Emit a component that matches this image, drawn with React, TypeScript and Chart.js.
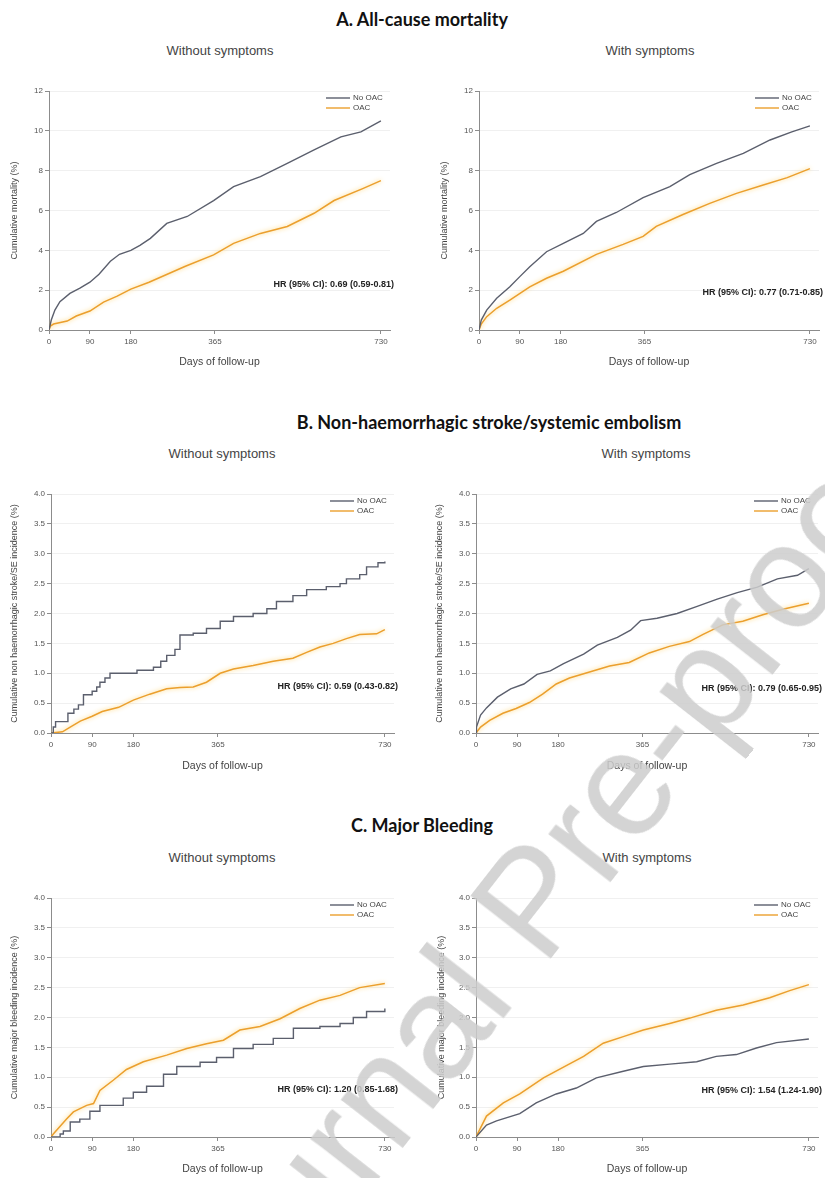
import React, { useEffect, useRef } from "react";
import { Chart, registerables } from "chart.js";
Chart.register(...registerables);

// ---------- shared labels ----------
const seriesLabels = ["No OAC", "OAC"];
const xTickValues = [0, 90, 180, 365, 730];
const xAxisTitle = "Days of follow-up";
const sectionTitles = [
  "A. All-cause mortality",
  "B. Non-haemorrhagic stroke/systemic embolism",
  "C. Major Bleeding",
];
const groupTitles = ["Without symptoms", "With symptoms"];
const yTitles = [
  "Cumulative mortality (%)",
  "Cumulative non haemorrhagic stroke/SE incidence (%)",
  "Cumulative major bleeding incidence (%)",
];
const hrLabels = [
  "HR (95% CI): 0.69 (0.59-0.81)",
  "HR (95% CI): 0.77 (0.71-0.85)",
  "HR (95% CI): 0.59 (0.43-0.82)",
  "HR (95% CI): 0.79 (0.65-0.95)",
  "HR (95% CI): 1.20 (0.85-1.68)",
  "HR (95% CI): 1.54 (1.24-1.90)",
];
const watermarkText = "Journal Pre-proof";

// ---------- A. All-cause mortality, without symptoms ----------
const aWithoutNoOacDays = [0, 5, 13, 24, 46, 68, 90, 110, 135, 155, 180, 200, 223, 259, 304, 362, 406, 465, 524, 583, 642, 686, 730];
const aWithoutNoOacPct = [0, 0.5, 1.0, 1.42, 1.84, 2.1, 2.4, 2.8, 3.45, 3.8, 4.0, 4.25, 4.6, 5.35, 5.7, 6.5, 7.2, 7.7, 8.37, 9.04, 9.7, 9.95, 10.5];
const aWithoutOacDays = [0, 3, 10, 40, 60, 90, 120, 150, 180, 220, 260, 300, 362, 406, 465, 524, 583, 627, 690, 730];
const aWithoutOacPct = [0, 0.2, 0.3, 0.45, 0.7, 0.95, 1.4, 1.7, 2.05, 2.4, 2.8, 3.2, 3.77, 4.35, 4.85, 5.2, 5.86, 6.5, 7.1, 7.5];

// ---------- A. All-cause mortality, with symptoms ----------
const aWithNoOacDays = [0, 5, 17, 39, 68, 90, 112, 149, 186, 230, 259, 303, 362, 421, 465, 524, 583, 642, 690, 730];
const aWithNoOacPct = [0, 0.5, 1.0, 1.59, 2.17, 2.68, 3.18, 3.93, 4.35, 4.85, 5.45, 5.9, 6.65, 7.2, 7.8, 8.37, 8.87, 9.54, 9.95, 10.25];
const aWithOacDays = [0, 5, 17, 39, 68, 112, 149, 186, 259, 318, 362, 391, 450, 509, 568, 627, 680, 730];
const aWithOacPct = [0, 0.3, 0.67, 1.09, 1.5, 2.17, 2.6, 2.95, 3.8, 4.3, 4.7, 5.2, 5.8, 6.36, 6.86, 7.28, 7.65, 8.1];

// ---------- B. Stroke/SE, without symptoms ----------
const bWithoutNoOacDays = [0, 5, 10, 37, 50, 60, 71, 90, 100, 107, 118, 129, 188, 224, 240, 253, 271, 282, 311, 340, 370, 399, 442, 472, 493, 529, 559, 602, 632, 646, 675, 690, 715, 730];
const bWithoutNoOacPct = [0, 0.1, 0.19, 0.33, 0.4, 0.47, 0.64, 0.7, 0.77, 0.85, 0.92, 1.0, 1.05, 1.1, 1.2, 1.3, 1.4, 1.64, 1.67, 1.75, 1.87, 1.95, 2.0, 2.08, 2.2, 2.3, 2.4, 2.45, 2.5, 2.58, 2.65, 2.78, 2.85, 2.87];
const bWithoutOacDays = [0, 25, 42, 64, 90, 112, 148, 180, 216, 253, 282, 311, 340, 370, 399, 442, 486, 529, 559, 588, 617, 646, 675, 712, 730];
const bWithoutOacPct = [0, 0.02, 0.1, 0.2, 0.28, 0.36, 0.43, 0.55, 0.65, 0.74, 0.76, 0.77, 0.85, 1.0, 1.07, 1.13, 1.2, 1.25, 1.35, 1.44, 1.5, 1.58, 1.65, 1.66, 1.73];

// ---------- B. Stroke/SE, with symptoms ----------
const bWithNoOacDays = [0, 1, 10, 23, 47, 76, 105, 134, 163, 192, 236, 266, 310, 339, 361, 397, 441, 485, 529, 573, 617, 661, 705, 730];
const bWithNoOacPct = [0, 0.1, 0.3, 0.42, 0.6, 0.74, 0.82, 0.98, 1.04, 1.16, 1.32, 1.47, 1.6, 1.72, 1.88, 1.92, 2.0, 2.12, 2.24, 2.35, 2.44, 2.58, 2.64, 2.75];
const bWithOacDays = [0, 10, 30, 59, 88, 117, 146, 176, 205, 249, 293, 336, 380, 424, 468, 498, 541, 585, 629, 673, 730];
const bWithOacPct = [0, 0.1, 0.21, 0.33, 0.41, 0.51, 0.65, 0.82, 0.92, 1.02, 1.12, 1.18, 1.34, 1.45, 1.53, 1.65, 1.81, 1.87, 1.98, 2.07, 2.17];

// ---------- C. Major bleeding, without symptoms ----------
const cWithoutNoOacDays = [0, 20, 27, 42, 63, 85, 107, 158, 180, 209, 246, 275, 326, 362, 399, 442, 486, 530, 588, 632, 661, 690, 730];
const cWithoutNoOacPct = [0, 0.05, 0.1, 0.25, 0.3, 0.43, 0.53, 0.65, 0.75, 0.85, 1.05, 1.18, 1.25, 1.33, 1.48, 1.55, 1.65, 1.82, 1.85, 1.9, 2.0, 2.1, 2.15];
const cWithoutOacDays = [0, 5, 34, 49, 78, 93, 107, 136, 165, 202, 253, 297, 340, 377, 413, 457, 501, 544, 588, 632, 675, 730];
const cWithoutOacPct = [0, 0.05, 0.3, 0.42, 0.53, 0.56, 0.78, 0.95, 1.13, 1.26, 1.37, 1.48, 1.56, 1.62, 1.79, 1.85, 1.98, 2.15, 2.29, 2.37, 2.5, 2.57];

// ---------- C. Major bleeding, with symptoms ----------
const cWithNoOacDays = [0, 23, 45, 96, 132, 176, 220, 264, 323, 367, 425, 484, 527, 571, 615, 659, 730];
const cWithNoOacPct = [0, 0.2, 0.27, 0.39, 0.57, 0.72, 0.82, 0.99, 1.1, 1.18, 1.22, 1.26, 1.35, 1.38, 1.49, 1.58, 1.64];
const cWithOacDays = [0, 23, 60, 96, 148, 199, 236, 279, 323, 367, 425, 469, 527, 586, 644, 688, 730];
const cWithOacPct = [0, 0.35, 0.57, 0.72, 0.99, 1.2, 1.35, 1.57, 1.68, 1.79, 1.9, 1.99, 2.12, 2.21, 2.33, 2.45, 2.55];

// ---------- styling ----------
const FONT = '"Liberation Sans", Arial, sans-serif';
const NO_OAC_COLOR = "#5b5f6d";
const OAC_COLOR = "#eb9f2d";
const AXIS_COLOR = "#8c8c8c";
const X_MAX = 750;
const TICK_FONT = 8;
const LEGEND_FONT = 8;
const HR_FONT = 9;
const Y_TITLE_FONT = 9;
const X_TITLE_FONT = 10.5;

type Series = { days: number[]; pct: number[]; stepped: boolean };
type PanelCfg = {
  canvas: { left: number; top: number; width: number; height: number };
  plot: { left: number; right: number; top: number; bottom: number };
  yMax: number;
  yStep: number;
  yDec: number;
  yTitle: string;
  yTitleX: number;
  xTitleY: number;
  noOac: Series;
  oac: Series;
  hr: string;
  hrDy: number;
};

const toPoints = (days: number[], pct: number[]) => days.map((d, i) => ({ x: d, y: pct[i] }));

const overlayPlugin = {
  id: "kmOverlay",
  beforeDatasetDraw(chart: any, args: any) {
    const ds = chart.data.datasets[args.index];
    chart.ctx.save();
    if (ds.glowColor) {
      chart.ctx.shadowColor = ds.glowColor;
      chart.ctx.shadowBlur = 4;
    }
  },
  afterDatasetDraw(chart: any) {
    chart.ctx.restore();
  },
  afterDraw(chart: any) {
    const opts = chart.options.plugins.kmOverlay || {};
    const { ctx, chartArea } = chart;
    const { right, top, bottom } = chartArea;
    ctx.save();
    ctx.font = `${LEGEND_FONT}px ${FONT}`;
    ctx.textBaseline = "middle";
    ctx.textAlign = "left";
    chart.data.datasets.forEach((ds: any, i: number) => {
      const y = top + 7 + i * 10;
      ctx.strokeStyle = ds.borderColor;
      ctx.lineWidth = 1.4;
      ctx.beginPath();
      ctx.moveTo(right - 64, y);
      ctx.lineTo(right - 40, y);
      ctx.stroke();
      ctx.fillStyle = "#444";
      ctx.fillText(ds.label, right - 37, y);
    });
    if (opts.hr) {
      ctx.font = `bold ${HR_FONT}px ${FONT}`;
      ctx.textAlign = "right";
      ctx.fillStyle = "#222";
      ctx.fillText(opts.hr, right + 4, bottom - opts.hrDy);
    }
    ctx.restore();
  },
};

function Panel({ cfg }: { cfg: PanelCfg }) {
  const ref = useRef<HTMLCanvasElement | null>(null);
  useEffect(() => {
    if (!ref.current) return;
    const c = cfg.canvas;
    const p = cfg.plot;
    const yWidth = p.left - c.left;
    const xHeight = c.top + c.height - p.bottom;
    const yTitlePad = cfg.yTitleX - c.left - (Y_TITLE_FONT * 1.2) / 2;
    const xTitlePad = c.top + c.height - cfg.xTitleY - (X_TITLE_FONT * 1.2) / 2;
    const chart = new Chart(ref.current, {
      type: "line",
      data: {
        datasets: [
          {
            label: seriesLabels[0],
            data: toPoints(cfg.noOac.days, cfg.noOac.pct),
            borderColor: NO_OAC_COLOR,
            borderWidth: 1.4,
            stepped: cfg.noOac.stepped,
            pointRadius: 0,
            tension: 0,
          } as any,
          {
            label: seriesLabels[1],
            data: toPoints(cfg.oac.days, cfg.oac.pct),
            borderColor: OAC_COLOR,
            borderWidth: 1.5,
            stepped: cfg.oac.stepped,
            pointRadius: 0,
            tension: 0,
            glowColor: "rgba(255,205,90,0.9)",
          } as any,
        ],
      },
      options: {
        animation: false,
        responsive: false,
        maintainAspectRatio: false,
        devicePixelRatio: 1,
        layout: {
          padding: {
            left: 0,
            right: c.left + c.width - p.right,
            top: p.top - c.top,
            bottom: 0,
          },
        },
        plugins: {
          legend: { display: false },
          tooltip: { enabled: false },
          kmOverlay: { hr: cfg.hr, hrDy: cfg.hrDy },
        } as any,
        scales: {
          x: {
            type: "linear",
            min: 0,
            max: X_MAX,
            afterBuildTicks: (s: any) => {
              s.ticks = xTickValues.map((v) => ({ value: v }));
            },
            afterFit: (s: any) => {
              s.height = xHeight;
            },
            grid: { drawOnChartArea: false, drawTicks: true, tickLength: 4, tickColor: AXIS_COLOR },
            border: { color: AXIS_COLOR, width: 1 },
            ticks: {
              autoSkip: false,
              maxRotation: 0,
              padding: 3,
              color: "#555",
              font: { size: TICK_FONT, family: FONT },
              callback: (v: any) => String(v),
            },
            title: {
              display: true,
              text: xAxisTitle,
              color: "#444",
              font: { size: X_TITLE_FONT, family: FONT },
              padding: { top: 0, bottom: xTitlePad },
            },
          },
          y: {
            type: "linear",
            min: 0,
            max: cfg.yMax,
            afterFit: (s: any) => {
              s.width = yWidth;
            },
            grid: { color: "#f0f0f0", tickColor: AXIS_COLOR, tickLength: 4, drawTicks: true },
            border: { color: AXIS_COLOR, width: 1 },
            ticks: {
              stepSize: cfg.yStep,
              padding: 2,
              color: "#555",
              font: { size: TICK_FONT, family: FONT },
              callback: (v: any) => Number(v).toFixed(cfg.yDec),
            },
            title: {
              display: true,
              text: cfg.yTitle,
              color: "#444",
              font: { size: Y_TITLE_FONT, family: FONT },
              padding: { top: yTitlePad, bottom: 0 },
            },
          },
        },
      } as any,
      plugins: [overlayPlugin as any],
    });
    return () => chart.destroy();
  }, [cfg]);
  const c = cfg.canvas;
  return (
    <canvas
      ref={ref}
      width={c.width}
      height={c.height}
      style={{ position: "absolute", left: c.left, top: c.top, width: c.width, height: c.height }}
    />
  );
}

const leftCanvas = { left: 0, width: 412 };
const rightCanvas = { left: 412, width: 413 };

const panels: PanelCfg[] = [
  {
    canvas: { ...leftCanvas, top: 70, height: 302 },
    plot: { left: 49, right: 390, top: 91, bottom: 330 },
    yMax: 12, yStep: 2, yDec: 0, yTitle: yTitles[0], yTitleX: 15, xTitleY: 362,
    noOac: { days: aWithoutNoOacDays, pct: aWithoutNoOacPct, stepped: false },
    oac: { days: aWithoutOacDays, pct: aWithoutOacPct, stepped: false },
    hr: hrLabels[0], hrDy: 45,
  },
  {
    canvas: { ...rightCanvas, top: 70, height: 302 },
    plot: { left: 479, right: 819, top: 91, bottom: 330 },
    yMax: 12, yStep: 2, yDec: 0, yTitle: yTitles[0], yTitleX: 445, xTitleY: 362,
    noOac: { days: aWithNoOacDays, pct: aWithNoOacPct, stepped: false },
    oac: { days: aWithOacDays, pct: aWithOacPct, stepped: false },
    hr: hrLabels[1], hrDy: 37,
  },
  {
    canvas: { ...leftCanvas, top: 474, height: 301 },
    plot: { left: 51, right: 394, top: 494, bottom: 733 },
    yMax: 4, yStep: 0.5, yDec: 1, yTitle: yTitles[1], yTitleX: 15, xTitleY: 766,
    noOac: { days: bWithoutNoOacDays, pct: bWithoutNoOacPct, stepped: true },
    oac: { days: bWithoutOacDays, pct: bWithoutOacPct, stepped: false },
    hr: hrLabels[2], hrDy: 46,
  },
  {
    canvas: { ...rightCanvas, top: 474, height: 301 },
    plot: { left: 476, right: 818, top: 494, bottom: 733 },
    yMax: 4, yStep: 0.5, yDec: 1, yTitle: yTitles[1], yTitleX: 440, xTitleY: 766,
    noOac: { days: bWithNoOacDays, pct: bWithNoOacPct, stepped: false },
    oac: { days: bWithOacDays, pct: bWithOacPct, stepped: false },
    hr: hrLabels[3], hrDy: 44,
  },
  {
    canvas: { ...leftCanvas, top: 878, height: 300 },
    plot: { left: 51, right: 394, top: 898, bottom: 1137 },
    yMax: 4, yStep: 0.5, yDec: 1, yTitle: yTitles[2], yTitleX: 15, xTitleY: 1169,
    noOac: { days: cWithoutNoOacDays, pct: cWithoutNoOacPct, stepped: true },
    oac: { days: cWithoutOacDays, pct: cWithoutOacPct, stepped: false },
    hr: hrLabels[4], hrDy: 47,
  },
  {
    canvas: { ...rightCanvas, top: 878, height: 300 },
    plot: { left: 476, right: 818, top: 898, bottom: 1137 },
    yMax: 4, yStep: 0.5, yDec: 1, yTitle: yTitles[2], yTitleX: 442, xTitleY: 1169,
    noOac: { days: cWithNoOacDays, pct: cWithNoOacPct, stepped: false },
    oac: { days: cWithOacDays, pct: cWithOacPct, stepped: false },
    hr: hrLabels[5], hrDy: 46,
  },
];

const sectionTitlePos = [
  { x: 422, y: 19 },
  { x: 489, y: 422 },
  { x: 422, y: 825 },
];
const groupTitlePos = [
  [{ x: 220, y: 50 }, { x: 650, y: 50 }],
  [{ x: 222, y: 453 }, { x: 646, y: 453 }],
  [{ x: 222, y: 857 }, { x: 647, y: 857 }],
];

function Centered({ x, y, style, children }: any) {
  return (
    <div
      style={{
        position: "absolute",
        left: x,
        top: y,
        transform: "translate(-50%, -50%)",
        whiteSpace: "nowrap",
        lineHeight: 1,
        ...style,
      }}
    >
      {children}
    </div>
  );
}

export default function App() {
  return (
    <div
      style={{
        position: "absolute",
        left: 0,
        top: 0,
        width: 825,
        height: 1178,
        background: "#ffffff",
        overflow: "hidden",
      }}
    >
      {sectionTitles.map((t, i) => (
        <Centered
          key={t}
          x={sectionTitlePos[i].x}
          y={sectionTitlePos[i].y}
          style={{ fontFamily: "Lato, 'Open Sans', sans-serif", fontWeight: 700, fontSize: 18, color: "#111" }}
        >
          {t}
        </Centered>
      ))}
      {groupTitlePos.map((row, r) =>
        row.map((pos, j) => (
          <Centered
            key={`${r}-${j}`}
            x={pos.x}
            y={pos.y}
            style={{ fontFamily: FONT, fontSize: 13, color: "#444" }}
          >
            {groupTitles[j]}
          </Centered>
        ))
      )}
      {panels.map((p, i) => (
        <Panel key={i} cfg={p} />
      ))}
      <div
        style={{
          position: "absolute",
          left: 531,
          top: 901,
          transform: "translate(-50%, -50%) rotate(-52deg)",
          whiteSpace: "nowrap",
          fontFamily: FONT,
          fontWeight: 400,
          fontSize: 148,
          lineHeight: 1,
          color: "rgba(205,205,205,0.85)",
          pointerEvents: "none",
        }}
      >
        {watermarkText}
      </div>
    </div>
  );
}
